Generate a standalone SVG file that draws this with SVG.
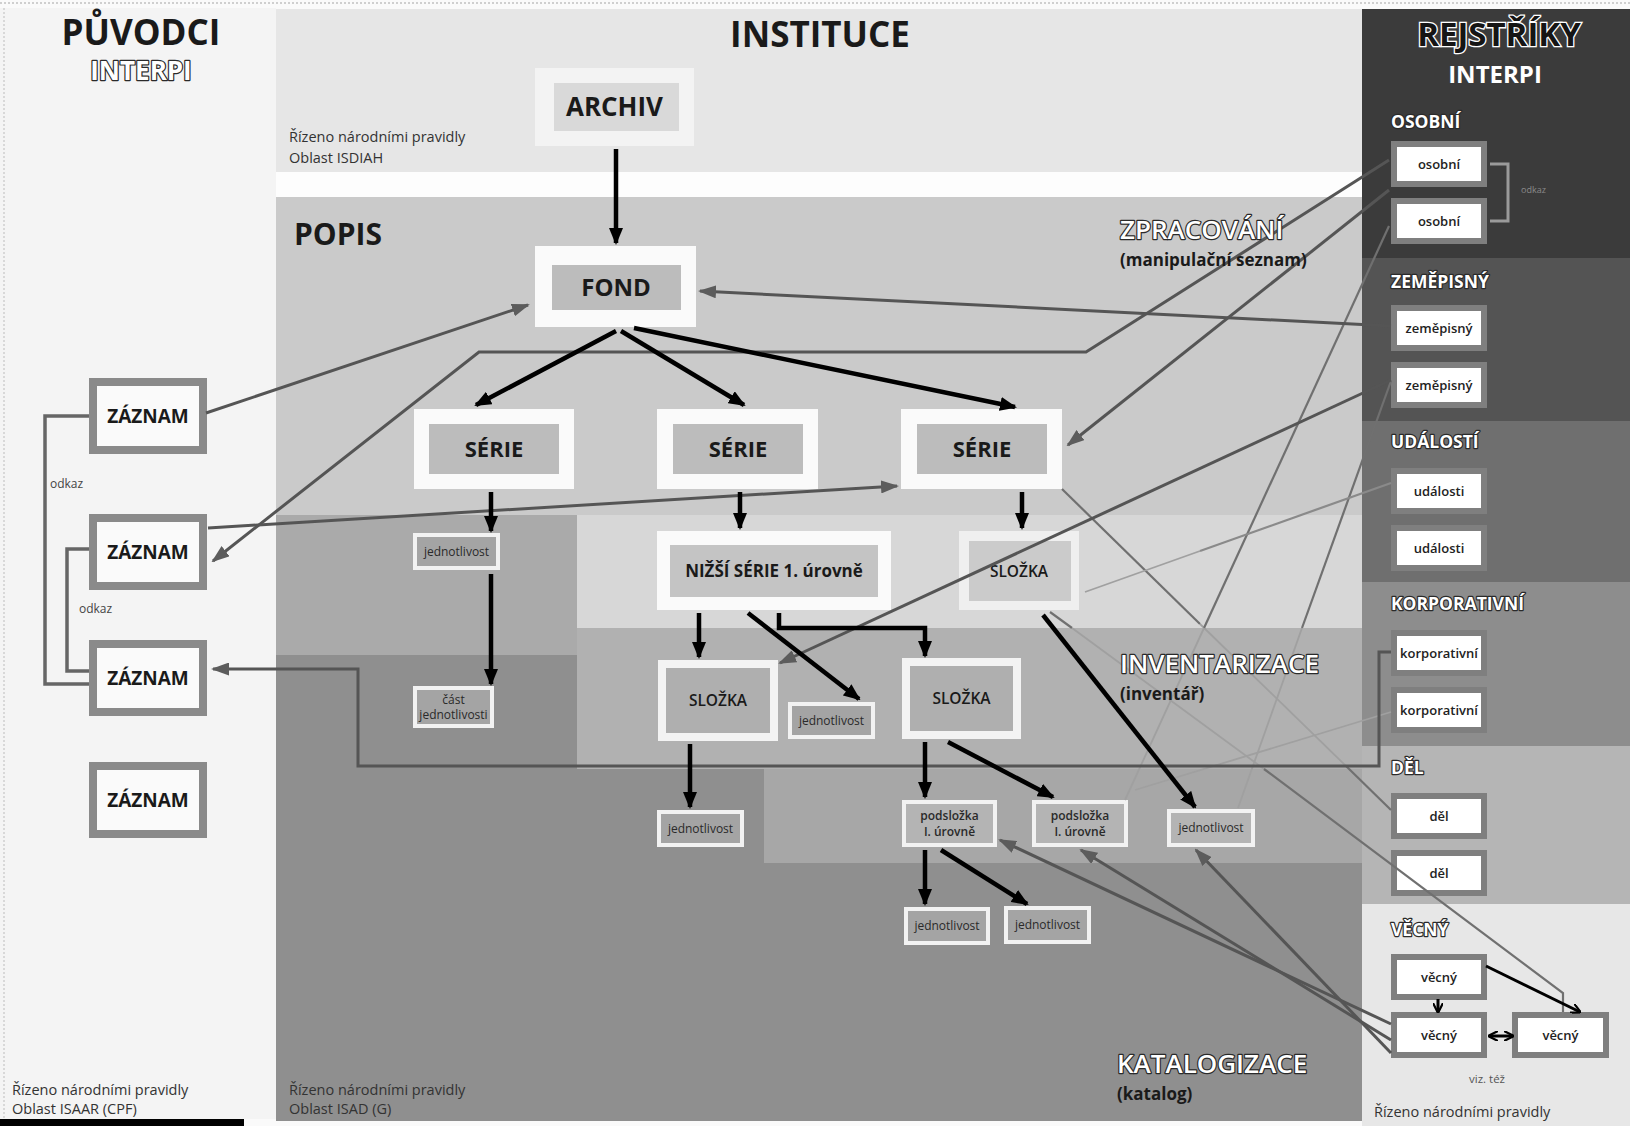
<svg xmlns="http://www.w3.org/2000/svg" width="1630" height="1126" viewBox="0 0 1630 1126">
<style>
text{font-family:"Open Sans","Liberation Sans",sans-serif;fill:#1a1a1a}
.b{font-weight:700}
.sb{font-weight:600}
.c{text-anchor:middle}
.outl{fill:#fff;stroke:#2a2a2a;stroke-width:2.4;paint-order:stroke;stroke-linejoin:round}
.note{font-size:14.5px;fill:#333}
.frame{fill:#fafafa}
.inner{fill:#bcbcbc}
.sm{fill:#f2f2f2}
.smi{fill:#a4a4a4}
.zaz{fill:#fafafa;stroke:#8a8a8a;stroke-width:8}
.reg{fill:#fff;stroke:#7f7f7f;stroke-width:6}
.regt{font-size:13px;font-weight:600;text-anchor:middle;fill:#222}
.sec{font-size:17.5px;font-weight:700}
.jt{font-size:12px;text-anchor:middle;fill:#2a2a2a}
.blk{stroke:#000;stroke-width:4.5;fill:none;marker-end:url(#ab)}
.thin{stroke:#000;stroke-width:3;fill:none;marker-end:url(#as)}
.gry{stroke:#555;stroke-width:3;fill:none}
.ga{marker-end:url(#ag)}
.fnt{stroke:#707070;stroke-width:2.2;fill:none}
.fnt2{stroke:#a0a0a0;stroke-width:1.8;fill:none}
.brk{stroke:#666;stroke-width:3.5;fill:none}
</style>
<defs>
<marker id="ab" viewBox="0 0 17 14" preserveAspectRatio="none" refX="15" refY="7" markerWidth="17" markerHeight="14" markerUnits="userSpaceOnUse" orient="auto"><path d="M0,0L17,7L0,14z" fill="#000"/></marker>
<marker id="as" viewBox="0 0 10 10" preserveAspectRatio="none" refX="9" refY="5" markerWidth="10" markerHeight="10" markerUnits="userSpaceOnUse" orient="auto-start-reverse"><path d="M0,0L10,5L0,10" fill="none" stroke="#000" stroke-width="2.2"/></marker>
<marker id="ag" viewBox="0 0 18 13" preserveAspectRatio="none" refX="16" refY="6.5" markerWidth="18" markerHeight="13" markerUnits="userSpaceOnUse" orient="auto"><path d="M0,0L18,6.5L0,13z" fill="#5c5c5c"/></marker>
</defs>

<g id="background">
<rect x="0" y="0" width="1630" height="1126" fill="#fafafa"/>
<line x1="0" y1="3" x2="1630" y2="3" stroke="#cfcfcf" stroke-width="2" stroke-dasharray="2 2"/>
<rect x="0" y="8" width="276" height="1111" fill="#f4f4f4"/>
<line x1="4" y1="8" x2="4" y2="1119" stroke="#d8d8d8" stroke-width="2" stroke-dasharray="2 2"/>
<rect x="0" y="1119" width="244" height="7" fill="#000"/>
<rect x="276" y="9" width="1086" height="163" fill="#e6e6e6"/>
<rect x="276" y="172" width="1086" height="25" fill="#fdfdfd"/>
<rect x="276" y="515" width="1086" height="606" fill="#8f8f8f"/>
<rect x="276" y="197" width="1086" height="318" fill="#cacaca"/>
<rect x="577" y="515" width="785" height="113" fill="#d7d7d7"/>
<rect x="276" y="515" width="301" height="140" fill="#aaaaaa"/>
<rect x="577" y="628" width="785" height="141" fill="#b1b1b1"/>
<rect x="764" y="769" width="598" height="94" fill="#a7a7a7"/>
<rect x="1362" y="9" width="268" height="249" fill="#3b3b3b"/>
<rect x="1362" y="258" width="268" height="163" fill="#545454"/>
<rect x="1362" y="421" width="268" height="161" fill="#6f6f6f"/>
<rect x="1362" y="582" width="268" height="164" fill="#8d8d8d"/>
<rect x="1362" y="746" width="268" height="158" fill="#b5b5b5"/>
<rect x="1362" y="904" width="268" height="222" fill="#e7e7e7"/>
</g>

<g id="archiv"><rect x="535" y="68" width="159" height="78" fill="#f3f3f3"/><rect x="554" y="83" width="125" height="48" fill="#d9d9d9"/><text x="614.5" y="116" class="b c" font-size="26">ARCHIV</text></g>
<g id="fond"><rect class="frame" x="535" y="246" width="161" height="81"/><rect class="inner" x="552" y="265" width="129" height="45"/><text x="616" y="296" class="b c" font-size="24">FOND</text></g>
<g id="serie1"><rect class="frame" x="414" y="409" width="160" height="80"/><rect class="inner" x="429" y="424" width="130" height="50"/><text x="494" y="457" class="b c" font-size="22">SÉRIE</text></g>
<g id="serie2"><rect class="frame" x="657" y="409" width="161" height="80"/><rect class="inner" x="673" y="424" width="130" height="50"/><text x="738" y="457" class="b c" font-size="22">SÉRIE</text></g>
<g id="serie3"><rect class="frame" x="901" y="409" width="161" height="80"/><rect class="inner" x="917" y="424" width="130" height="50"/><text x="982" y="457" class="b c" font-size="22">SÉRIE</text></g>
<g id="nizsi-serie"><rect class="frame" x="657" y="531" width="234" height="79"/><rect x="670" y="545" width="208" height="52" fill="#c4c4c4"/><text x="774" y="577" class="b c" font-size="17">NIŽŠÍ SÉRIE 1. úrovně</text></g>
<g id="slozka-r"><rect x="959" y="531" width="120" height="79" fill="#efefef"/><rect x="969" y="541" width="102" height="60" fill="#cbcbcb"/><text x="1019" y="577" class="sb c" font-size="15.5">SLOŽKA</text></g>
<g id="jednotlivost-1"><rect class="sm" x="413" y="533" width="87" height="37"/><rect class="smi" x="417" y="537" width="79" height="29"/><text x="456.5" y="556" class="jt">jednotlivost</text></g>
<g id="cast-jednotlivosti"><rect class="sm" x="413" y="686" width="81" height="42"/><rect class="smi" x="417" y="690" width="73" height="34"/><text x="453.5" y="704" class="jt" font-size="11.5">část</text><text x="453.5" y="719" class="jt" font-size="11.5">jednotlivosti</text></g>
<g id="slozka-ml"><rect x="658" y="660" width="120" height="81" fill="#f3f3f3"/><rect x="666" y="668" width="104" height="65" fill="#afafaf"/><text x="718" y="706" class="sb c" font-size="15.5">SLOŽKA</text></g>
<g id="jednotlivost-2"><rect class="sm" x="788" y="702" width="87" height="37"/><rect class="smi" x="792" y="706" width="79" height="29"/><text x="831.5" y="725" class="jt">jednotlivost</text></g>
<g id="slozka-mr"><rect x="902" y="658" width="119" height="81" fill="#f3f3f3"/><rect x="910" y="666" width="103" height="65" fill="#afafaf"/><text x="961.5" y="704" class="sb c" font-size="15.5">SLOŽKA</text></g>
<g id="jednotlivost-3"><rect class="sm" x="657" y="810" width="87" height="37"/><rect class="smi" x="661" y="814" width="79" height="29"/><text x="700.5" y="833" class="jt">jednotlivost</text></g>
<g id="podslozka-1"><rect class="sm" x="902" y="800" width="95" height="47"/><rect x="906" y="804" width="87" height="39" fill="#b4b4b4"/><text x="949.5" y="820" class="jt sb">podsložka</text><text x="949.5" y="836" class="jt sb">I. úrovně</text></g>
<g id="podslozka-2"><rect class="sm" x="1032" y="800" width="96" height="47"/><rect x="1036" y="804" width="88" height="39" fill="#b4b4b4"/><text x="1080" y="820" class="jt sb">podsložka</text><text x="1080" y="836" class="jt sb">I. úrovně</text></g>
<g id="jednotlivost-4"><rect class="sm" x="1167" y="809" width="88" height="38"/><rect x="1171" y="813" width="80" height="30" fill="#b4b4b4"/><text x="1211" y="832" class="jt">jednotlivost</text></g>
<g id="jednotlivost-5"><rect class="sm" x="904" y="907" width="86" height="38"/><rect class="smi" x="908" y="911" width="78" height="30"/><text x="947" y="930" class="jt">jednotlivost</text></g>
<g id="jednotlivost-6"><rect class="sm" x="1004" y="906" width="87" height="38"/><rect class="smi" x="1008" y="910" width="79" height="30"/><text x="1047.5" y="929" class="jt">jednotlivost</text></g>

<g id="zaznam-1"><rect class="zaz" x="93" y="382" width="110" height="68"/><text x="148" y="423" class="b c" font-size="19">ZÁZNAM</text></g>
<g id="zaznam-2"><rect class="zaz" x="93" y="518" width="110" height="68"/><text x="148" y="559" class="b c" font-size="19">ZÁZNAM</text></g>
<g id="zaznam-3"><rect class="zaz" x="93" y="644" width="110" height="68"/><text x="148" y="685" class="b c" font-size="19">ZÁZNAM</text></g>
<g id="zaznam-4"><rect class="zaz" x="93" y="766" width="110" height="68"/><text x="148" y="807" class="b c" font-size="19">ZÁZNAM</text></g>

<g id="osobni-1"><rect class="reg" x="1394" y="144" width="90" height="40"/><text x="1439" y="169" class="regt">osobní</text></g>
<g id="osobni-2"><rect class="reg" x="1394" y="201" width="90" height="40"/><text x="1439" y="226" class="regt">osobní</text></g>
<g id="zemepisny-1"><rect class="reg" x="1394" y="308" width="90" height="40"/><text x="1439" y="333" class="regt">zeměpisný</text></g>
<g id="zemepisny-2"><rect class="reg" x="1394" y="365" width="90" height="40"/><text x="1439" y="390" class="regt">zeměpisný</text></g>
<g id="udalosti-1"><rect class="reg" x="1394" y="471" width="90" height="40"/><text x="1439" y="496" class="regt">události</text></g>
<g id="udalosti-2"><rect class="reg" x="1394" y="528" width="90" height="40"/><text x="1439" y="553" class="regt">události</text></g>
<g id="korporativni-1"><rect class="reg" x="1394" y="633" width="90" height="40"/><text x="1439" y="658" class="regt">korporativní</text></g>
<g id="korporativni-2"><rect class="reg" x="1394" y="690" width="90" height="40"/><text x="1439" y="715" class="regt">korporativní</text></g>
<g id="del-1"><rect class="reg" x="1394" y="796" width="90" height="40"/><text x="1439" y="821" class="regt">děl</text></g>
<g id="del-2"><rect class="reg" x="1394" y="853" width="90" height="40"/><text x="1439" y="878" class="regt">děl</text></g>
<g id="vecny-1"><rect class="reg" x="1394" y="957" width="90" height="40"/><text x="1439" y="982" class="regt">věcný</text></g>
<g id="vecny-2"><rect class="reg" x="1394" y="1015" width="90" height="40"/><text x="1439" y="1040" class="regt">věcný</text></g>
<g id="vecny-3"><rect class="reg" x="1515" y="1015" width="91" height="40"/><text x="1560.5" y="1040" class="regt">věcný</text></g>

<g id="connectors">
<path class="fnt" d="M1062,489 L1200,624"/>
<path class="fnt2" d="M1200,624 L1346,766"/>
<path class="fnt" d="M1346,766 L1391,810"/>
<path class="fnt" d="M1050,612 L1072,628"/>
<path class="fnt2" d="M1072,628 L1264,769"/>
<path class="fnt" d="M1264,769 L1563,993 L1563,1012"/>
<path class="fnt" d="M1389,226 L1204,628"/>
<path class="fnt2" d="M1204,628 L1125,800"/>
<path class="fnt" d="M1391,381 L1302,628"/>
<path class="fnt2" d="M1302,628 L1238,808"/>
<path class="fnt2" d="M1391,712 L1135,790"/>
<path class="fnt" d="M1391,483 L1200,551" style="stroke:#8a8a8a"/>
<path class="fnt2" d="M1200,551 L1085,592"/>
<path class="brk" d="M89,416 L45,416 L45,684 L89,684"/>
<path class="brk" d="M89,549 L67,549 L67,671 L89,671"/>
<path d="M1490,164 L1508,164 L1508,221 L1490,221" stroke="#9a9a9a" stroke-width="3" fill="none"/>
<path class="gry ga" d="M206,413 L528,305"/>
<path class="gry ga" d="M1391,326 L700,291"/>
<path class="gry ga" d="M1389,160 L1086,352 L479,352 L213,561"/>
<path class="gry ga" d="M1389,190 L1068,445"/>
<path class="gry ga" d="M1391,380 L780,663"/>
<path class="gry ga" d="M208,528 L897,486"/>
<path class="gry ga" d="M1391,652 L1379,652 L1379,766 L358,766 L358,669 L213,669"/>
<path class="gry ga" d="M1391,1024 L1000,840"/>
<path class="gry ga" d="M1391,1040 L1081,850"/>
<path class="gry ga" d="M1391,1053 L1196,850"/>
<path class="blk" d="M616,149 L616,243"/>
<path class="blk" d="M616,331 L476,405"/>
<path class="blk" d="M621,331 L744,405"/>
<path class="blk" d="M634,328 L1015,407"/>
<path class="blk" d="M491,492 L491,531"/>
<path class="blk" d="M491,574 L491,684"/>
<path class="blk" d="M740,492 L740,528"/>
<path class="blk" d="M1022,492 L1022,528"/>
<path class="blk" d="M699,613 L699,657"/>
<path class="blk" d="M748,613 L859,699"/>
<path class="blk" d="M779,613 L779,628 L925,628 L925,656"/>
<path class="blk" d="M690,744 L690,807"/>
<path class="blk" d="M1043,615 L1195,807"/>
<path class="blk" d="M925,742 L925,797"/>
<path class="blk" d="M948,742 L1053,797"/>
<path class="blk" d="M925,850 L925,904"/>
<path class="blk" d="M941,850 L1027,904"/>
<path class="thin" d="M1486,966 L1580,1012"/>
<path class="thin" d="M1438,999 L1438,1012"/>
<path class="thin" style="marker-start:url(#as)" d="M1489,1036 L1513,1036"/>
</g>

<g id="labels">
<text x="141" y="45" class="b c" font-size="35">PŮVODCI</text>
<text x="141" y="80" class="b c outl" font-size="26">INTERPI</text>
<text x="820" y="47" class="b c" font-size="35">INSTITUCE</text>
<text x="1499" y="46" class="b c" font-size="33" style="fill:#151515;stroke:#fff;stroke-width:2.6;paint-order:stroke">REJSTŘÍKY</text>
<text x="1495" y="83" class="b c" font-size="24" style="fill:#fff">INTERPI</text>
<text x="289" y="142" class="note">Řízeno národními pravidly</text>
<text x="289" y="163" class="note">Oblast ISDIAH</text>
<text x="294" y="245" class="b" font-size="30">POPIS</text>
<text x="1120" y="239" class="sb outl" font-size="26">ZPRACOVÁNÍ</text>
<text x="1120" y="266" class="b" font-size="17">(manipulační seznam)</text>
<text x="1120" y="673" class="sb outl" font-size="26">INVENTARIZACE</text>
<text x="1120" y="700" class="b" font-size="17">(inventář)</text>
<text x="1117" y="1073" class="sb outl" font-size="26">KATALOGIZACE</text>
<text x="1117" y="1100" class="b" font-size="17">(katalog)</text>
<text x="12" y="1095" class="note">Řízeno národními pravidly</text>
<text x="12" y="1114" class="note">Oblast ISAAR (CPF)</text>
<text x="289" y="1095" class="note">Řízeno národními pravidly</text>
<text x="289" y="1114" class="note">Oblast ISAD (G)</text>
<text x="1374" y="1117" class="note">Řízeno národními pravidly</text>
<text x="1487" y="1083" class="c" font-size="11.5" style="fill:#555">viz. též</text>
<text x="1391" y="128" class="sec outl">OSOBNÍ</text>
<text x="1391" y="288" class="sec outl">ZEMĚPISNÝ</text>
<text x="1391" y="448" class="sec outl">UDÁLOSTÍ</text>
<text x="1391" y="610" class="sec outl">KORPORATIVNÍ</text>
<text x="1391" y="774" class="sec outl">DĚL</text>
<text x="1391" y="936" class="sec outl">VĚCNÝ</text>
<text x="50" y="488" font-size="12" style="fill:#444">odkaz</text>
<text x="79" y="613" font-size="12" style="fill:#444">odkaz</text>
<text x="1521" y="193" font-size="9" style="fill:#8a8a8a">odkaz</text>
</g>
</svg>
